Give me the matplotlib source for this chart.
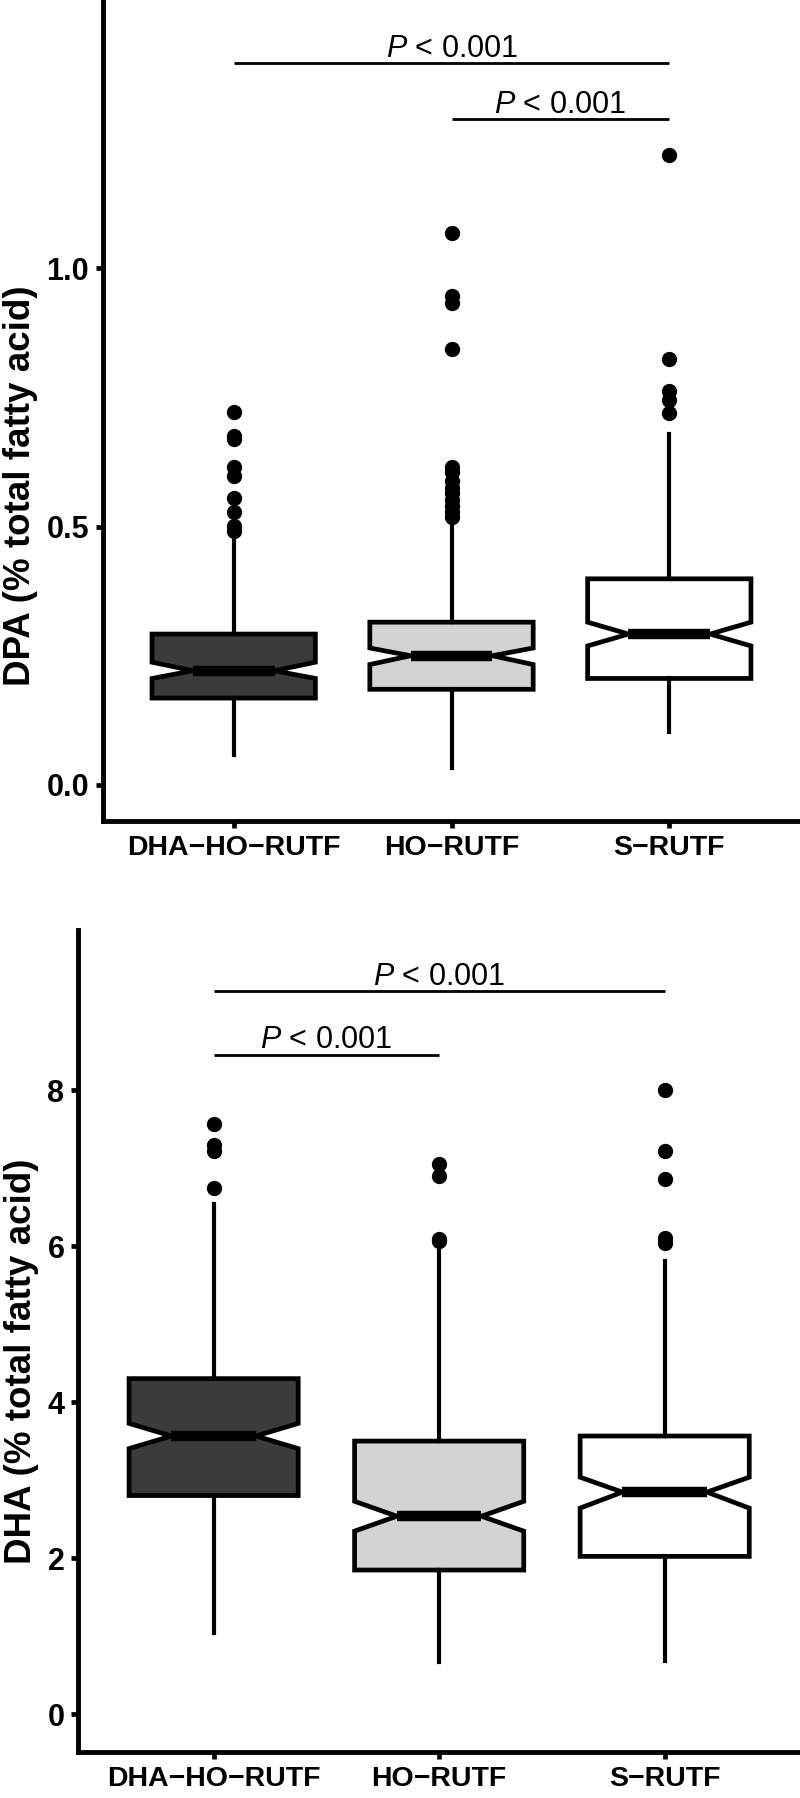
import numpy as np
import matplotlib
matplotlib.use('Agg')
import matplotlib.pyplot as plt

plt.rcParams['font.family'] = ['Liberation Sans', 'DejaVu Sans']
plt.rcParams['mathtext.fontset'] = 'custom'
plt.rcParams['mathtext.rm'] = 'Liberation Sans'
plt.rcParams['mathtext.it'] = 'Liberation Sans:italic'

# groups (R draws the hyphen as a minus sign)
groups = ['DHA\u2212HO\u2212RUTF', 'HO\u2212RUTF', 'S\u2212RUTF']
fills = ['#3b3b3b', '#d3d3d3', '#ffffff']

# DPA panel, values
dpa_med = [0.221, 0.250, 0.292]
dpa_q1 = [0.168, 0.185, 0.206]
dpa_q3 = [0.292, 0.315, 0.399]
dpa_notch_lo = [0.206, 0.233, 0.269]
dpa_notch_hi = [0.2375, 0.265, 0.315]
dpa_whis_lo = [0.057, 0.0335, 0.103]
dpa_whis_hi = [0.473, 0.504, 0.680]
dpa_out = [[0.722, 0.675, 0.670, 0.615, 0.598, 0.556, 0.529, 0.502, 0.491],
           [1.069, 0.947, 0.934, 0.844, 0.615, 0.605, 0.588, 0.575, 0.565,
            0.552, 0.540, 0.529, 0.519],
           [1.220, 0.825, 0.762, 0.745, 0.720]]
dpa_sig = [(1, 3, 1.398), (2, 3, 1.289)]

# DHA panel
dha_med = [3.569, 2.541, 2.850]
dha_q1 = [2.806, 1.851, 2.026]
dha_q3 = [4.305, 3.504, 3.569]
dha_notch_lo = [3.408, 2.350, 2.645]
dha_notch_hi = [3.731, 2.732, 3.041]
dha_whis_lo = [1.043, 0.676, 0.690]
dha_whis_hi = [6.538, 5.950, 5.818]
dha_out = [[7.567, 7.302, 7.228, 6.751],
           [7.060, 6.906, 6.097, 6.067],
           [8.008, 7.228, 6.861, 6.112, 6.040]]
dha_sig = [(1, 3, 9.27), (1, 2, 8.46)]

sig_text = r'$P$ < 0.001'


def make_stats(med, q1, q3, nlo, nhi, wlo, whi, out):
    st = []
    for i in range(len(med)):
        st.append(dict(med=med[i], q1=q1[i], q3=q3[i], cilo=nlo[i], cihi=nhi[i],
                       whislo=wlo[i], whishi=whi[i], fliers=out[i]))
    return st


def draw_panel(ax, stats, sig, ylim, yticks, yticklabels, ylabel, label_y):
    bp = ax.bxp(stats, positions=[1, 2, 3], widths=0.75, patch_artist=True,
                shownotches=True, showcaps=False,
                boxprops=dict(linewidth=3.4, edgecolor='black'),
                whiskerprops=dict(linewidth=3.0, color='black'),
                medianprops=dict(linewidth=7.5, color='black', solid_capstyle='butt'),
                flierprops=dict(marker='o', markerfacecolor='black',
                                markeredgecolor='black', markersize=10))
    for patch, col in zip(bp['boxes'], fills):
        patch.set_facecolor(col)

    # significance bars
    for a, b, y in sig:
        ax.plot([a, b], [y, y], color='black', linewidth=2.0, solid_capstyle='butt')
        ax.annotate(sig_text, xy=((a + b) / 2, y), xytext=(0, 4.5),
                    textcoords='offset points', ha='center', va='baseline',
                    fontsize=22)

    ax.set_xlim(0.4, 3.6)
    ax.set_ylim(*ylim)
    ax.set_yticks(yticks)
    ax.set_yticklabels(yticklabels)
    ax.set_xticks([1, 2, 3])
    ax.set_xticklabels(groups)
    for side in ['top', 'right']:
        ax.spines[side].set_visible(False)
    for side in ['left', 'bottom']:
        ax.spines[side].set_linewidth(3.5)
    ax.tick_params(axis='both', width=3.4, length=5, pad=5)
    ax.tick_params(axis='x', labelsize=20.5)
    ax.tick_params(axis='y', labelsize=22)
    for t in ax.get_xticklabels() + ax.get_yticklabels():
        t.set_fontweight('bold')
    ax.set_ylabel(ylabel, fontsize=26.5, fontweight='bold')
    ax.yaxis.set_label_coords(label_y[0], label_y[1])


fig = plt.figure(figsize=(8, 17.98), dpi=100)

ax1 = fig.add_axes([0.12875, 0.5434, 0.87125, 0.4566])
draw_panel(ax1,
           make_stats(dpa_med, dpa_q1, dpa_q3, dpa_notch_lo, dpa_notch_hi,
                      dpa_whis_lo, dpa_whis_hi, dpa_out),
           dpa_sig, (-0.07, 1.52), [0, 0.5, 1.0], ['0.0', '0.5', '1.0'],
           'DPA (% total fatty acid)', (-0.093, 0.408))

ax2 = fig.add_axes([0.0979, 0.0258, 0.9021, 0.4571])
draw_panel(ax2,
           make_stats(dha_med, dha_q1, dha_q3, dha_notch_lo, dha_notch_hi,
                      dha_whis_lo, dha_whis_hi, dha_out),
           dha_sig, (-0.477, 10.06), [0, 2, 4, 6, 8], ['0', '2', '4', '6', '8'],
           'DHA (% total fatty acid)', (-0.055, 0.475))

fig.savefig('out.png', dpi=100)
